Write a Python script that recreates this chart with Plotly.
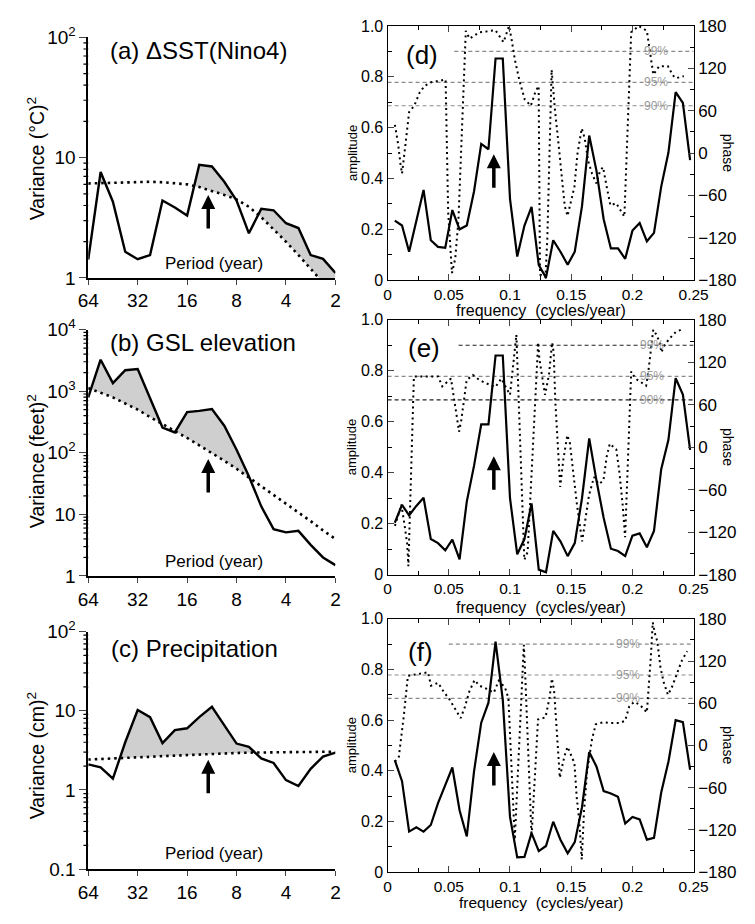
import numpy as np
import plotly.graph_objects as go

W, H = 755, 924

# ---------------- data: left panels (variance spectra) ----------------
PERIODS = [64, 53.8, 45.3, 38.1, 32, 26.9, 22.6, 19.0, 16, 13.5, 11.3, 9.5, 8,
           6.73, 5.66, 4.76, 4, 3.36, 2.83, 2.38, 2]
PERIOD_TICKS = [64, 32, 16, 8, 4, 2]

SST_VAR = [1.42, 7.6, 4.3, 1.65, 1.43, 1.55, 4.4, 3.85, 3.3, 8.7, 8.45, 6.3, 4.4,
           2.35, 3.75, 3.65, 2.85, 2.6, 1.55, 1.44, 1.1]
SST_RED = [6.1, 6.15, 6.2, 6.25, 6.3, 6.3, 6.25, 6.15, 6.0, 5.7, 5.3, 4.9, 4.5,
           3.9, 3.2, 2.55, 2.0, 1.55, 1.2, 0.92, 0.7]

GSL_VAR = [794, 3236, 1349, 2188, 2291, 741, 257, 214, 457, 479, 513, 275, 112,
           41.7, 13.5, 5.75, 5.1, 5.4, 3.2, 2.0, 1.5]
GSL_RED = [1122, 955, 794, 631, 501, 380, 295, 229, 174, 132, 100, 74.1, 55.0,
           39.8, 28.8, 20.9, 14.8, 10.7, 7.76, 5.5, 3.98]

PRC_VAR = [2.1, 1.93, 1.39, 4.0, 10.2, 8.3, 3.9, 5.7, 6.0, 8.3, 11.2, 6.6, 3.85,
           3.5, 2.5, 2.19, 1.33, 1.12, 1.85, 2.64, 2.95]
PRC_RED = [2.42, 2.45, 2.48, 2.52, 2.57, 2.62, 2.67, 2.72, 2.77, 2.82, 2.86, 2.9,
           2.93, 2.96, 2.98, 3.0, 3.01, 3.02, 3.03, 3.03, 3.04]

ARROW_PERIOD = 11.9
ARROW_FREQ = 0.0868

# ---------------- data: right panels (coherence amplitude / phase) ----------------
FREQ = [0.0059, 0.0118, 0.0176, 0.0235, 0.0294, 0.0353, 0.0412, 0.0471, 0.0529,
        0.0588, 0.0647, 0.0706, 0.0765, 0.0824, 0.0882, 0.0941, 0.1, 0.1059,
        0.1118, 0.1176, 0.1235, 0.1294, 0.1353, 0.1412, 0.1471, 0.1529, 0.1588,
        0.1647, 0.1706, 0.1765, 0.1824, 0.1882, 0.1941, 0.2, 0.2059, 0.2118,
        0.2176, 0.2235, 0.2294, 0.2353, 0.2412, 0.2471]

AMP_D = [0.234, 0.215, 0.112, 0.23, 0.355, 0.157, 0.131, 0.127, 0.276, 0.2, 0.215,
         0.349, 0.536, 0.515, 0.872, 0.872, 0.32, 0.093, 0.215, 0.288, 0.059, 0.01,
         0.157, 0.112, 0.061, 0.112, 0.291, 0.569, 0.431, 0.24, 0.125, 0.125, 0.084,
         0.195, 0.225, 0.153, 0.186, 0.368, 0.502, 0.74, 0.697, 0.472]
AMP_E = [0.204, 0.274, 0.233, 0.27, 0.302, 0.14, 0.124, 0.096, 0.138, 0.06, 0.287,
         0.427, 0.59, 0.59, 0.86, 0.86, 0.3, 0.08, 0.14, 0.28, 0.02, 0.01, 0.172,
         0.131, 0.073, 0.124, 0.30, 0.535, 0.37, 0.223, 0.102, 0.093, 0.073, 0.153,
         0.162, 0.108, 0.172, 0.414, 0.529, 0.771, 0.707, 0.49]
AMP_F = [0.442, 0.359, 0.16, 0.177, 0.16, 0.186, 0.272, 0.34, 0.413, 0.244, 0.141,
         0.397, 0.59, 0.669, 0.91, 0.68, 0.218, 0.058, 0.06, 0.154, 0.083, 0.103,
         0.199, 0.128, 0.074, 0.118, 0.256, 0.474, 0.417, 0.32, 0.31, 0.297, 0.192,
         0.218, 0.208, 0.128, 0.135, 0.314, 0.436, 0.6, 0.592, 0.404]

PH_D_F = [0.006, 0.0087, 0.0105, 0.0118, 0.014, 0.0158, 0.0176, 0.0218, 0.0263,
          0.0302, 0.035, 0.0474, 0.0495, 0.0526, 0.0553, 0.0579, 0.0592, 0.0613,
          0.0623, 0.0639, 0.067, 0.071, 0.075, 0.0803, 0.0881, 0.0947, 0.0992,
          0.1013, 0.104, 0.1078, 0.112, 0.117, 0.121, 0.1234, 0.1245, 0.129,
          0.1305, 0.134, 0.1366, 0.1394, 0.142, 0.1447, 0.147, 0.15, 0.1526, 0.155,
          0.1586, 0.161, 0.1638, 0.167, 0.1705, 0.1736, 0.176, 0.179, 0.182,
          0.1868, 0.1934, 0.199, 0.205, 0.2118, 0.214, 0.2171, 0.2218, 0.229,
          0.233, 0.2355, 0.242]
PH_D = [40, 12, -15, -29, 3, 35, 58, 67, 86, 95, 100, 104, -84, -170, -149, -94,
        -38, 53, 122, 173, 162, 166, 171, 172, 174, 157, 180, 161, 132, 102, 76,
        67, 88, 95, -172, -176, -120, 118, 63, 17, -34, -75, -89, -66, -48, -2, 35,
        21, -11, -29, -43, -25, -20, -48, -74, -71, -90, 171, 180, 173, 145, 111,
        123, 123, 110, 106, 109]

PH_E_F = [0.006, 0.009, 0.0113, 0.0138, 0.016, 0.017, 0.0215, 0.0413, 0.0447,
          0.0518, 0.0537, 0.0563, 0.0584, 0.0602, 0.062, 0.0646, 0.0697, 0.075,
          0.0797, 0.0881, 0.0929, 0.1, 0.104, 0.1052, 0.1117, 0.1144, 0.123, 0.124,
          0.1286, 0.1318, 0.1344, 0.1357, 0.137, 0.1389, 0.141, 0.1436, 0.1468,
          0.1489, 0.1515, 0.1547, 0.1589, 0.1615, 0.1645, 0.1686, 0.1725, 0.1763,
          0.179, 0.1815, 0.1868, 0.1894, 0.192, 0.194, 0.199, 0.2025, 0.2064,
          0.2112, 0.213, 0.2148, 0.217, 0.2196, 0.2223, 0.2236, 0.2262, 0.23,
          0.2355, 0.2413]
PH_E = [-111, -93, -81, -109, -136, -168, 100, 100, 86, 97, 77, 47, 22, 38, 65, 95,
        102, 95, 91, 85, 97, 74, 139, 159, -159, -148, 148, 125, 74, 102, 148, 134,
        65, 1, -56, -17, 17, 6, -36, -81, -133, -104, -68, -42, -52, -47, -13, 5, -3,
        -36, -81, -127, 107, 97, 93, 87, 107, 134, 166, 159, 148, 134, 144, 153, 163,
        167]

PH_F_F = [0.006, 0.0092, 0.0132, 0.015, 0.0166, 0.033, 0.0355, 0.0413, 0.046,
          0.05, 0.054, 0.0579, 0.0597, 0.0632, 0.0666, 0.071, 0.075, 0.0803,
          0.0868, 0.0908, 0.096, 0.0987, 0.1039, 0.1113, 0.1124, 0.1176, 0.1229,
          0.129, 0.1324, 0.1342, 0.136, 0.1376, 0.1394, 0.1407, 0.1428, 0.1447,
          0.147, 0.15, 0.1526, 0.1545, 0.1565, 0.1586, 0.1605, 0.163, 0.167, 0.17,
          0.1763, 0.1826, 0.1894, 0.194, 0.1973, 0.2013, 0.206, 0.2118, 0.2139,
          0.215, 0.2166, 0.2184, 0.2203, 0.2229, 0.2255, 0.229, 0.2323, 0.236,
          0.2402, 0.2447]
PH_F = [-23, -16, 41, 76, 99, 104, 85, 89, 76, 67, 55, 44, 39, 55, 76, 93, 85, 81,
        75, 92, 82, 67, -134, 143, 101, -129, 37, 40, 69, 95, 78, 37, -9, -46, -28,
        -14, -2, -14, -25, -74, -106, -162, -92, -37, 9, 30, 33, 32, 32, 35, 55, 62,
        58, 47, 92, 125, 175, 159, 148, 111, 90, 72, 83, 99, 120, 134]

SIG_LEVELS = [0.9, 0.778, 0.686]
SIG_LABELS_D = ["99%", "95%", "90%"]
SIG_LABELS_E = ["99%", "95%", "90%"]
SIG_LABELS_F = ["99%", "95%", "90%"]

# ---------------- helpers ----------------
def xd(a, b):
    return [a / W, b / W]

def yd(top, bottom):
    return [1 - bottom / H, 1 - top / H]

def px(v):
    return v / W

def py(v):
    return 1 - v / H

def upper_with_crossings(x, s, r):
    lx, ls, lr = np.log10(x), np.log10(s), np.log10(r)
    xs, ys = [], []
    for i in range(len(x)):
        xs.append(x[i])
        ys.append(max(s[i], r[i]))
        if i < len(x) - 1:
            d0 = ls[i] - lr[i]
            d1 = ls[i + 1] - lr[i + 1]
            if d0 * d1 < 0:
                t = d0 / (d0 - d1)
                xs.append(10 ** (lx[i] + t * (lx[i + 1] - lx[i])))
                ys.append(10 ** (lr[i] + t * (lr[i + 1] - lr[i])))
    return xs, ys

FONT = "Liberation Sans, Arial, sans-serif"
fig = go.Figure()

left_panels = [
    ("x", "y", SST_VAR, SST_RED),
    ("x2", "y2", GSL_VAR, GSL_RED),
    ("x3", "y3", PRC_VAR, PRC_RED),
]
for xa, ya, spec, red in left_panels:
    fig.add_trace(go.Scatter(x=PERIODS, y=red, mode="lines", line=dict(width=0, color="rgba(0,0,0,0)"),
                             xaxis=xa, yaxis=ya, hoverinfo="skip"))
    ux, uy = upper_with_crossings(PERIODS, spec, red)
    fig.add_trace(go.Scatter(x=ux, y=uy, mode="lines", line=dict(width=0, color="rgba(0,0,0,0)"),
                             fill="tonexty", fillcolor="#cfcfcf", xaxis=xa, yaxis=ya, hoverinfo="skip"))
    fig.add_trace(go.Scatter(x=PERIODS, y=spec, mode="lines", line=dict(width=2.4, color="black"),
                             xaxis=xa, yaxis=ya))
    fig.add_trace(go.Scatter(x=PERIODS, y=red, mode="lines",
                             line=dict(width=2.6, color="black", dash="2.5px,4px"),
                             xaxis=xa, yaxis=ya))

right_panels = [
    ("x4", "y4", "y5", AMP_D, PH_D_F, PH_D),
    ("x5", "y6", "y7", AMP_E, PH_E_F, PH_E),
    ("x6", "y8", "y9", AMP_F, PH_F_F, PH_F),
]
for xa, ya, yp, amp, pf, ph in right_panels:
    fig.add_trace(go.Scatter(x=FREQ, y=amp, mode="lines", line=dict(width=2.2, color="black"),
                             xaxis=xa, yaxis=ya))
    fig.add_trace(go.Scatter(x=pf, y=ph, mode="lines",
                             line=dict(width=2.0, color="black", dash="2px,3.5px"),
                             xaxis=xa, yaxis=yp))

# ---------------- axes ----------------
LX = xd(80, 336)
RX = xd(390, 707)
left_y = [
    ("", yd(25, 272), [0, 2], [1, 10, 100], ["1", "10", "10<sup>2</sup>"]),
    ("2", yd(325, 578), [0, 4], [1, 10, 100, 1000, 10000],
     ["1", "10", "10<sup>2</sup>", "10<sup>3</sup>", "10<sup>4</sup>"]),
    ("3", yd(635, 879), [-1, 2], [0.1, 1, 10, 100], ["0.1", "1", "10", "10<sup>2</sup>"]),
]
layout = {}
shapes = []
annotations = []
for suf, dom, rng, tv, tt in left_y:
    layout["xaxis" + suf] = dict(
        domain=LX, type="log", range=[np.log10(64), np.log10(2)], tickvals=PERIOD_TICKS,
        ticktext=[str(t) for t in PERIOD_TICKS], ticks="outside", ticklen=5, tickwidth=1.2,
        showline=True, linecolor="black", linewidth=1.5, showgrid=False, zeroline=False,
        tickfont=dict(size=19, family=FONT, color="black"), anchor="y" + suf)
    layout["yaxis" + suf] = dict(
        domain=dom, type="log", range=rng, tickvals=tv, ticktext=tt, ticks="outside",
        ticklen=7, tickwidth=1.3, showline=True, linecolor="black", linewidth=1.5,
        showgrid=False, zeroline=False, tickfont=dict(size=19, family=FONT, color="black"),
        anchor="x" + suf)
    # minor log ticks on the variance axis (shapes take data values on log axes)
    for e in range(rng[0], rng[1]):
        for m in range(2, 10):
            v = m * 10.0 ** e
            shapes.append(dict(type="line", xref="paper", yref="y" + suf,
                               x0=(80 - 5) / W, x1=80 / W, y0=v, y1=v, layer="above",
                               line=dict(color="black", width=1.2)))

right_y = [
    ("4", "4", "5", yd(13.3, 274.3)),
    ("5", "6", "7", yd(315, 576.7)),
    ("6", "8", "9", yd(622, 882)),
]
for xs, ya, yp, dom in right_y:
    layout["xaxis" + xs] = dict(
        domain=RX, range=[0, 0.25], tickmode="linear", tick0=0, dtick=0.05,
        ticks="inside", ticklen=6, tickwidth=1, showline=True, linecolor="black",
        linewidth=1.2, mirror="ticks", showgrid=False, zeroline=False,
        minor=dict(ticks="inside", ticklen=4, dtick=0.025, tick0=0, tickcolor="black"),
        tickfont=dict(size=15.5, family=FONT, color="black"), anchor="y" + ya)
    layout["yaxis" + ya] = dict(
        domain=dom, range=[0, 1], tickvals=[0, 0.2, 0.4, 0.6, 0.8, 1.0],
        ticktext=["0", "0.2", "0.4", "0.6", "0.8", "1.0"], ticks="inside", ticklen=6,
        showline=True, linecolor="black", linewidth=1.2, showgrid=False, zeroline=False,
        minor=dict(ticks="inside", ticklen=4, tickmode="linear", tick0=0, dtick=0.1,
                   tickcolor="black"),
        tickfont=dict(size=16, family=FONT, color="black"), anchor="x" + xs)
    layout["yaxis" + yp] = dict(
        domain=dom, range=[-180, 180], overlaying="y" + ya, side="right",
        tickvals=[-180, -120, -60, 0, 60, 120, 180], ticks="inside", ticklen=6,
        showline=True, linecolor="black", linewidth=1.2, showgrid=False, zeroline=False,
        minor=dict(ticks="inside", ticklen=4, tickmode="linear", tick0=-180, dtick=30,
                   tickcolor="black"),
        tickfont=dict(size=17, family=FONT, color="black"), anchor="x" + xs)

# ---------------- significance levels ----------------
sig_cfg = [
    ("x4", "y4", 0.0545, SIG_LABELS_D, 0.219, ["#8a8a8a", "#8a8a8a", "#8a8a8a"]),
    ("x5", "y6", 0.058, SIG_LABELS_E, 0.216, ["#222222", "#8a8a8a", "#222222"]),
    ("x6", "y8", 0.05, SIG_LABELS_F, 0.196, ["#8a8a8a", "#8a8a8a", "#8a8a8a"]),
]
for xa, ya, x99, labels, lx, cols in sig_cfg:
    for j, lev in enumerate(SIG_LEVELS):
        x0 = x99 if j == 0 else 0
        shapes.append(dict(type="line", xref=xa, yref=ya, x0=x0, x1=0.25, y0=lev, y1=lev,
                           line=dict(color=cols[j], width=1.1, dash="4px,3px"), layer="below"))
        annotations.append(dict(x=lx, y=lev, xref=xa, yref=ya, text=labels[j], showarrow=False,
                                font=dict(size=12, family=FONT, color="#9a9a9a")))

# ---------------- arrows ----------------
arrow_left = [("x", "y", 4.9), ("x2", "y2", 79.0), ("x3", "y3", 2.4)]
for xa, ya, tip in arrow_left:
    annotations.append(dict(x=np.log10(ARROW_PERIOD), y=np.log10(tip), xref=xa, yref=ya,
                            text="", showarrow=True, arrowhead=2, arrowsize=0.8, arrowwidth=3.5,
                            arrowcolor="black", ax=0, ay=35, standoff=0))
arrow_right = [("x4", "y4", 0.495), ("x5", "y6", 0.465), ("x6", "y8", 0.474)]
for xa, ya, tip in arrow_right:
    annotations.append(dict(x=ARROW_FREQ, y=tip, xref=xa, yref=ya, text="", showarrow=True,
                            arrowhead=2, arrowsize=0.8, arrowwidth=3.5, arrowcolor="black",
                            ax=0, ay=35, standoff=0))

# ---------------- text ----------------
def txt(x, y, s, size, angle=0, xanchor="center", color="black"):
    annotations.append(dict(x=px(x), y=py(y), xref="paper", yref="paper", text=s,
                            showarrow=False, textangle=angle, xanchor=xanchor, yanchor="middle",
                            font=dict(size=size, family=FONT, color=color)))

txt(100, 39, "(a) ΔSST(Nino4)", 24, xanchor="left")
txt(100, 338, "(b) GSL elevation", 24, xanchor="left")
txt(102, 652, "(c) Precipitation", 24, xanchor="left")
txt(26, 150, "Variance (°C)<sup>2</sup>", 19.5, angle=-90)
txt(26, 460, "Variance (feet)<sup>2</sup>", 19.5, angle=-90)
txt(26, 762, "Variance (cm)<sup>2</sup>", 19.5, angle=-90)
for yv in (257, 563, 863):
    txt(210, yv, "Period (year)", 17)

txt(426, 43, "(d)", 26)
txt(428, 344, "(e)", 26)
txt(424, 656, "(f)", 26)
for yv in (144, 446, 752):
    txt(353, yv, "amplitude", 13, angle=-90)
    txt(742, yv, "phase", 14, angle=90)
txt(549, 305, "frequency  (cycles/year)", 16)
txt(549, 610, "frequency  (cycles/year)", 16)
txt(549, 913, "frequency  (cycles/year)", 15.5)

layout.update(dict(width=W, height=H, margin=dict(l=0, r=0, t=0, b=0),
                   paper_bgcolor="white", plot_bgcolor="white", showlegend=False,
                   shapes=shapes, annotations=annotations,
                   font=dict(family=FONT, color="black")))
fig.update_layout(**layout)
fig.write_html("out.html")
